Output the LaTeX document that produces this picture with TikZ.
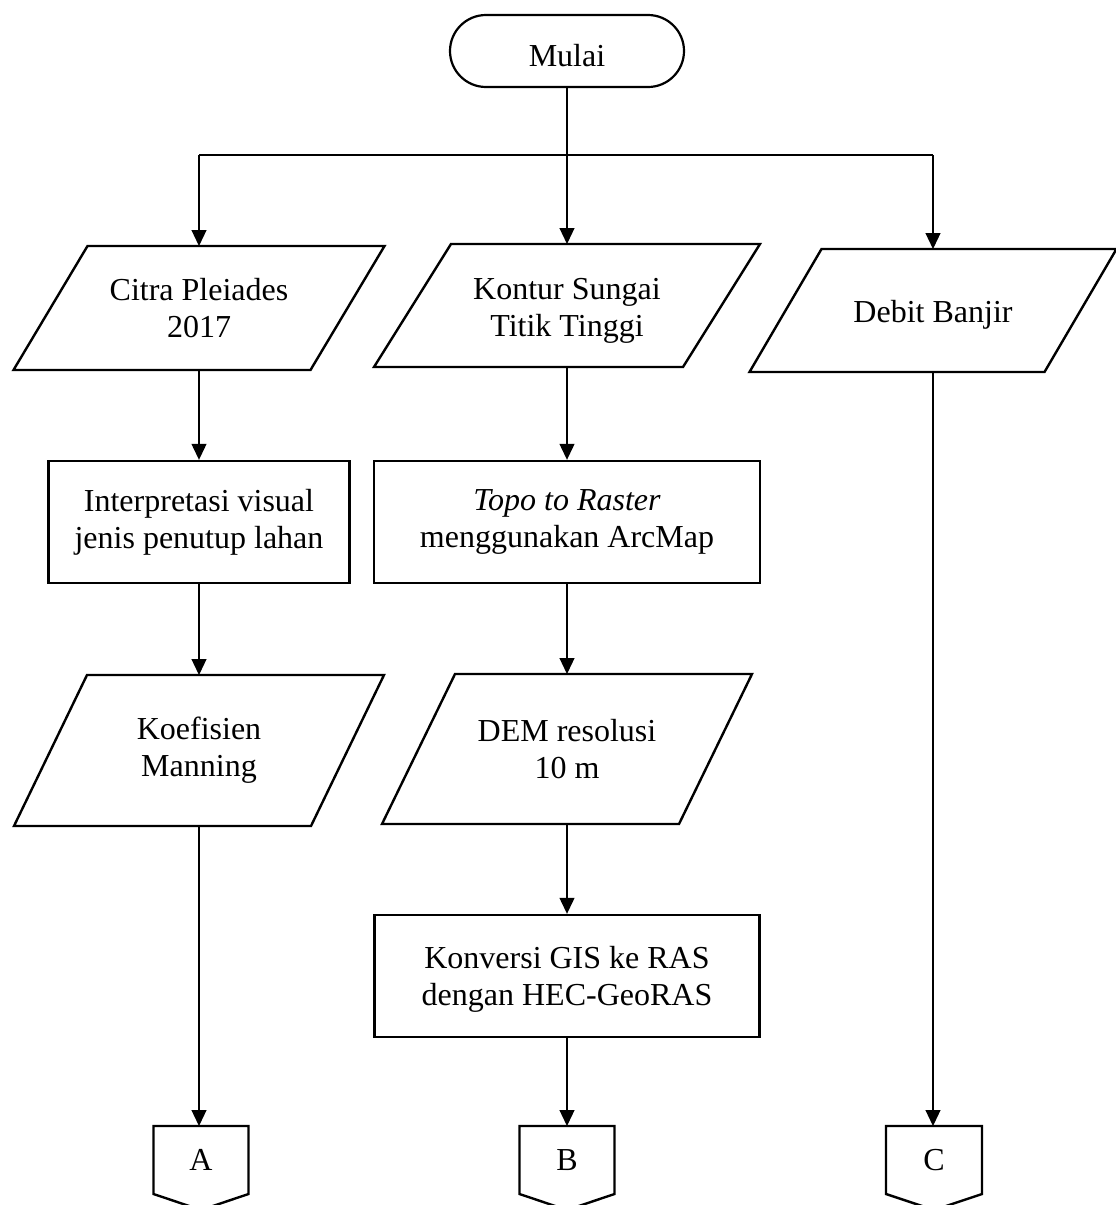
\documentclass[tikz,border=0pt]{standalone}
\usepackage{fontspec}
\setmainfont{Liberation Serif}
\usetikzlibrary{arrows.meta,calc}
\newcommand\myfs{\fontsize{32}{37}\selectfont}
\newcommand\lowr[2]{\raisebox{-#1}[\height][\depth]{#2}}
\begin{document}
\begin{tikzpicture}[x=1pt,y=-1pt,
  box/.style={draw, line width=2.4pt, inner sep=0pt, align=center, font=\myfs},
  iobox/.style={inner sep=0pt, outer sep=0pt, align=center, font=\myfs},
  term/.style={draw, line width=2.2pt, rounded corners=36pt, inner sep=0pt, font=\myfs, minimum width=234pt, minimum height=72pt},
  offp/.style={inner sep=0pt, outer sep=0pt, font=\myfs, minimum width=95pt, minimum height=68pt},
  outline/.style={line width=2.4pt, line join=miter},
  flow/.style={line width=1.2pt, -{Triangle[width=15pt,length=16pt]}},
  plain/.style={line width=1.2pt}
]
\useasboundingbox (0,0) rectangle (1116,1205);

% terminator
\node[term] (start) at (567,51) {\lowr{5pt}{Mulai}};

% input parallelograms, row 1
\node[iobox, minimum width=371pt, minimum height=124pt] (p1) at (199,308) {Citra Pleiades\\2017};
\node[iobox, minimum width=386pt, minimum height=123pt] (p2) at (567,305.5) {\lowr{5pt}{\begin{tabular}{@{}c@{}}Kontur Sungai\\Titik Tinggi\end{tabular}}};
\node[iobox, minimum width=367pt, minimum height=123pt] (p3) at (933,310.5) {\lowr{4pt}{Debit Banjir}};

% process boxes, row 2
\node[box, minimum width=301pt, minimum height=122pt] (b1) at (199,522) {Interpretasi visual\\jenis penutup lahan};
\node[box, minimum width=386pt, minimum height=122pt] (b2) at (567,522) {\textit{Topo to Raster}\\menggunakan ArcMap};

% parallelograms, row 3
\node[iobox, minimum width=370pt, minimum height=151pt] (p4) at (199,750.5) {Koefisien\\Manning};
\node[iobox, minimum width=370pt, minimum height=150pt] (p5) at (567,749) {DEM resolusi\\10 m};

% process box, row 4
\node[box, minimum width=385pt, minimum height=122pt] (b3) at (567,976) {\lowr{4pt}{\begin{tabular}{@{}c@{}}Konversi GIS ke RAS\\dengan HEC-GeoRAS\end{tabular}}};

% off-page connectors
\node[offp] (ca) at (201,1160) {A};
\node[offp] (cb) at (567,1160) {B};
\node[offp, minimum width=96pt] (cc) at (934,1160) {C};

% parallelogram outlines
\draw[outline] ($(p1.north west)+(74,0)$) -- (p1.north east) -- ($(p1.south east)+(-74,0)$) -- (p1.south west) -- cycle;
\draw[outline] ($(p2.north west)+(77,0)$) -- (p2.north east) -- ($(p2.south east)+(-77,0)$) -- (p2.south west) -- cycle;
\draw[outline] ($(p3.north west)+(72,0)$) -- (p3.north east) -- ($(p3.south east)+(-72,0)$) -- (p3.south west) -- cycle;
\draw[outline] ($(p4.north west)+(73,0)$) -- (p4.north east) -- ($(p4.south east)+(-73,0)$) -- (p4.south west) -- cycle;
\draw[outline] ($(p5.north west)+(73,0)$) -- (p5.north east) -- ($(p5.south east)+(-73,0)$) -- (p5.south west) -- cycle;

% off-page connector outlines
\foreach \c in {ca,cb,cc}{
  \draw[outline] (\c.south west) -- (\c.north west) -- (\c.north east) -- (\c.south east) -- ($(\c.south)+(0,16)$) -- cycle;
}

% connectors
\coordinate (jl) at (199,155);
\coordinate (jr) at (933,155);
\draw[plain] (jl) -- (jr);
\draw[flow] (start.south) -- (p2.north);
\draw[flow] (jl) -- (p1.north);
\draw[flow] (jr) -- (p3.north);

\draw[flow] (p1.south) -- (b1.north);
\draw[flow] (b1.south) -- (p4.north);
\draw[flow] (p4.south) -- (p4.south |- ca.north);

\draw[flow] (p2.south) -- (b2.north);
\draw[flow] (b2.south) -- (p5.north);
\draw[flow] (p5.south) -- (b3.north);
\draw[flow] (b3.south) -- (cb.north);

\draw[flow] (p3.south) -- (p3.south |- cc.north);
\end{tikzpicture}
\end{document}
